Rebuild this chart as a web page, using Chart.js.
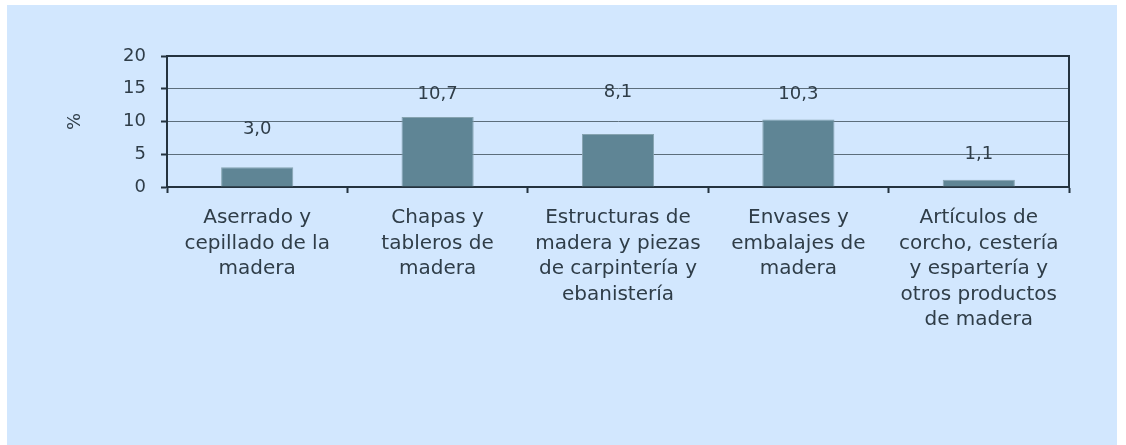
<!DOCTYPE html>
<html>
<head>
<meta charset="utf-8">
<script src="https://cdn.jsdelivr.net/npm/chart.js@4/dist/chart.umd.min.js"></script>
<style>
    body { margin: 0; background: #ffffff; }
    #panel {
        position: absolute;
        left: 7px;
        top: 5px;
        width: 1110px;
        height: 440px;
        background: #d2e7fe;
    }
</style>
</head>
<body>
<div id="panel"><canvas id="chart"></canvas></div>
<script>
const categories = [
    ['Aserrado y', 'cepillado de la', 'madera'],
    ['Chapas y', 'tableros de', 'madera'],
    ['Estructuras de', 'madera y piezas', 'de carpintería y', 'ebanistería'],
    ['Envases y', 'embalajes de', 'madera'],
    ['Artículos de', 'corcho, cestería', 'y espartería y', 'otros productos', 'de madera']
];
const values = [3.0, 10.7, 8.1, 10.3, 1.1];
const yTicks = [0, 5, 10, 15, 20];

// how far above each bar top its value label sits (px)
const labelLift = [38, 23, 42, 25, 25];

const textColor = '#2f3d48';
const axisColor = '#24333f';
const gridColor = '#5c6e7b';
const fontFamily = '"DejaVu Sans", sans-serif';


const barLabels = {
    id: 'barLabels',
    afterDatasetsDraw(chart) {
        const ctx = chart.ctx;
        const meta = chart.getDatasetMeta(0);
        ctx.save();
        ctx.font = '18px ' + fontFamily;
        ctx.fillStyle = textColor;
        ctx.textAlign = 'center';
        ctx.textBaseline = 'middle';
        meta.data.forEach((bar, i) => {
            const text = values[i].toFixed(1).replace('.', ',');
            ctx.fillText(text, bar.x, bar.y - labelLift[i]);
        });
        ctx.restore();
    }
};

// top and right edges of the plot box
const plotFrame = {
    id: 'plotFrame',
    afterDraw(chart) {
        const { left, right, top, bottom } = chart.chartArea;
        const ctx = chart.ctx;
        ctx.save();
        ctx.strokeStyle = axisColor;
        ctx.lineWidth = 2;
        ctx.beginPath();
        ctx.moveTo(left, top);
        ctx.lineTo(right, top);
        ctx.lineTo(right, bottom);
        ctx.stroke();
        ctx.restore();
    }
};


new Chart(document.getElementById('chart'), {
    type: 'bar',
    data: {
        labels: categories,
        datasets: [{
            data: values,
            backgroundColor: '#5f8595',
            borderColor: '#86a3b0',
            borderWidth: 1,
            barPercentage: 0.4,
            categoryPercentage: 1
        }]
    },
    options: {
        responsive: true,
        maintainAspectRatio: false,
        animation: false,
        layout: {
            padding: { top: 51, right: 48, left: 0, bottom: 0 }
        },
        plugins: {
            legend: { display: false },
            tooltip: { enabled: false }
        },
        scales: {
            x: {
                afterFit: (scale) => { scale.height = 258; },
                border: { color: axisColor, width: 2 },
                grid: {
                    offset: true,
                    drawOnChartArea: false,
                    tickLength: 6,
                    tickColor: axisColor,
                    tickWidth: 2
                },
                ticks: {
                    color: textColor,
                    font: { family: fontFamily, size: 20, lineHeight: 1.28 },
                    maxRotation: 0,
                    autoSkip: false,
                    padding: 12
                }
            },
            y: {
                min: 0,
                max: 20,
                afterFit: (scale) => { scale.width = 160; },
                afterBuildTicks: (scale) => {
                    scale.ticks = yTicks.map(v => ({ value: v }));
                },
                border: { color: axisColor, width: 2 },
                grid: {
                    color: gridColor,
                    lineWidth: 1,
                    tickLength: 6,
                    tickColor: axisColor,
                    tickWidth: 2
                },
                ticks: {
                    color: textColor,
                    font: { family: fontFamily, size: 18 },
                    padding: 15
                },
                title: {
                    display: true,
                    text: '%',
                    color: textColor,
                    font: { family: fontFamily, size: 18 },
                    padding: { top: 58, bottom: 0 }
                }
            }
        }
    },
    plugins: [barLabels, plotFrame]
});
</script>
</body>
</html>
